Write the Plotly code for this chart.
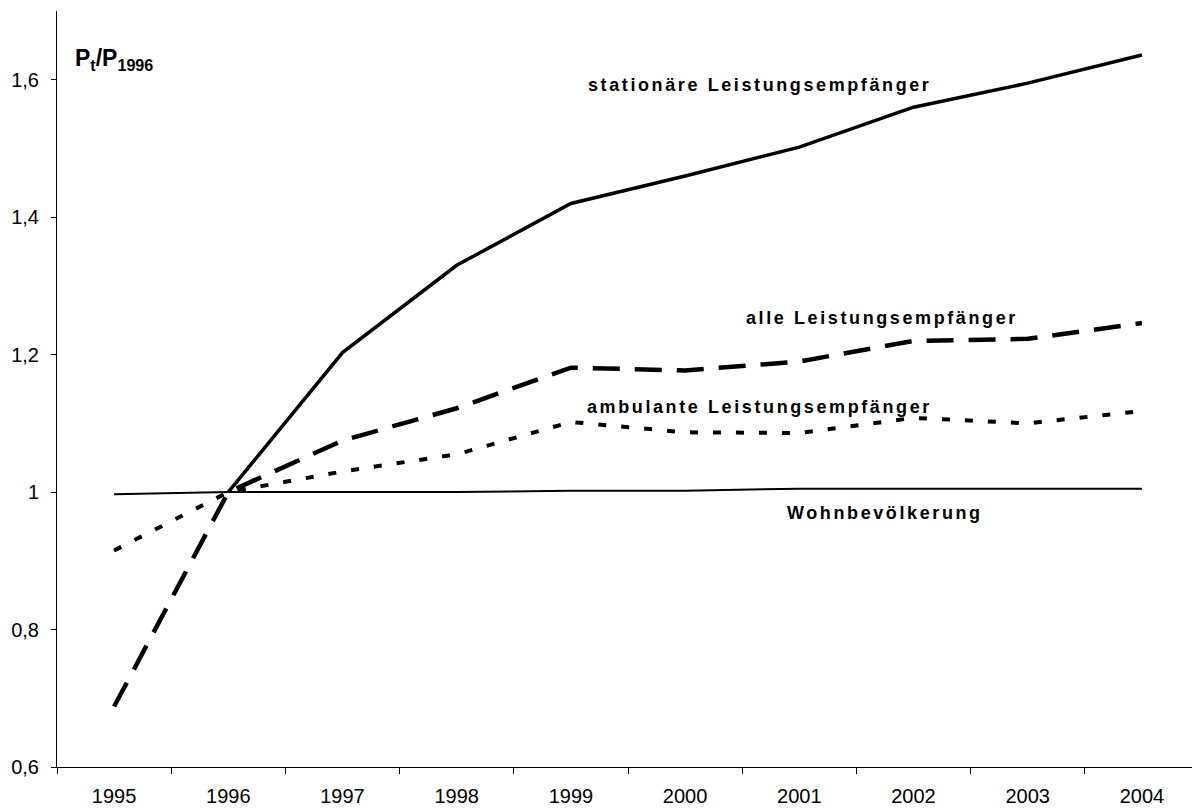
import plotly.graph_objects as go

years = ["1995", "1996", "1997", "1998", "1999", "2000", "2001", "2002", "2003", "2004"]
stationaer = [None, 1.0, 1.203, 1.33, 1.42, 1.46, 1.502, 1.56, 1.595, 1.636]
alle = [0.688, 1.0, 1.075, 1.122, 1.181, 1.177, 1.19, 1.22, 1.223, 1.246]
ambulant = [0.915, 1.0, 1.03, 1.055, 1.102, 1.087, 1.086, 1.108, 1.10, 1.118]
wohnbev = [0.997, 1.0, 1.0, 1.0, 1.002, 1.002, 1.005, 1.005, 1.005, 1.005]

y_tickvals = [0.6, 0.8, 1.0, 1.2, 1.4, 1.6]
y_ticktext = ["0,6", "0,8", "1", "1,2", "1,4", "1,6"]

FONT = "Liberation Sans, Arial, sans-serif"

fig = go.Figure()
fig.add_trace(go.Scatter(x=years, y=wohnbev, mode="lines",
                         line=dict(color="black", width=2), name="Wohnbevölkerung"))
fig.add_trace(go.Scatter(x=years, y=ambulant, mode="lines",
                         line=dict(color="black", width=4, dash="8px,15px"), name="ambulante"))
fig.add_trace(go.Scatter(x=years, y=alle, mode="lines",
                         line=dict(color="black", width=4.5, dash="27px,15px"), name="alle"))
fig.add_trace(go.Scatter(x=years, y=stationaer, mode="lines",
                         line=dict(color="black", width=3.5), name="stationäre"))

def lbl(text, x, y, size=18):
    fig.add_annotation(x=x, y=y, xref="x", yref="y", xanchor="left", yanchor="middle",
                       showarrow=False,
                       text='<b><span style="letter-spacing:2.6px">' + text + '</span></b>',
                       font=dict(family=FONT, size=size, color="black"))

lbl("stationäre Leistungsempfänger", 4.13, 1.593)
lbl("alle Leistungsempfänger", 5.516, 1.253)
lbl("ambulante Leistungsempfänger", 4.12, 1.124)
lbl("Wohnbevölkerung", 5.875, 0.969)

fig.add_annotation(x=-0.36, y=1.63, xref="x", yref="y", xanchor="left", yanchor="middle",
                   showarrow=False, text="<b>P<sub>t</sub>/P<sub>1996</sub></b>",
                   font=dict(family=FONT, size=23, color="black"))

fig.update_layout(
    width=1192, height=801,
    margin=dict(l=49, r=1, t=3, b=42, autoexpand=False),
    paper_bgcolor="white", plot_bgcolor="white",
    showlegend=False,
    font=dict(family=FONT, size=20, color="black"),
    xaxis=dict(type="category", range=[-0.5, 9.5], tickson="boundaries",
               showline=True, linecolor="black", linewidth=1,
               ticks="outside", ticklen=6, tickcolor="black",
               showgrid=False, zeroline=False, ticklabelstandoff=11, automargin=False,
               tickfont=dict(family=FONT, size=20, color="black")),
    yaxis=dict(range=[0.6, 1.7], tickvals=y_tickvals, ticktext=y_ticktext,
               showline=True, linecolor="black", linewidth=1,
               ticks="outside", ticklen=5, tickcolor="black",
               showgrid=False, zeroline=False, ticklabelstandoff=8, automargin=False,
               tickfont=dict(family=FONT, size=20, color="black")),
)

fig.write_html("out.html")
